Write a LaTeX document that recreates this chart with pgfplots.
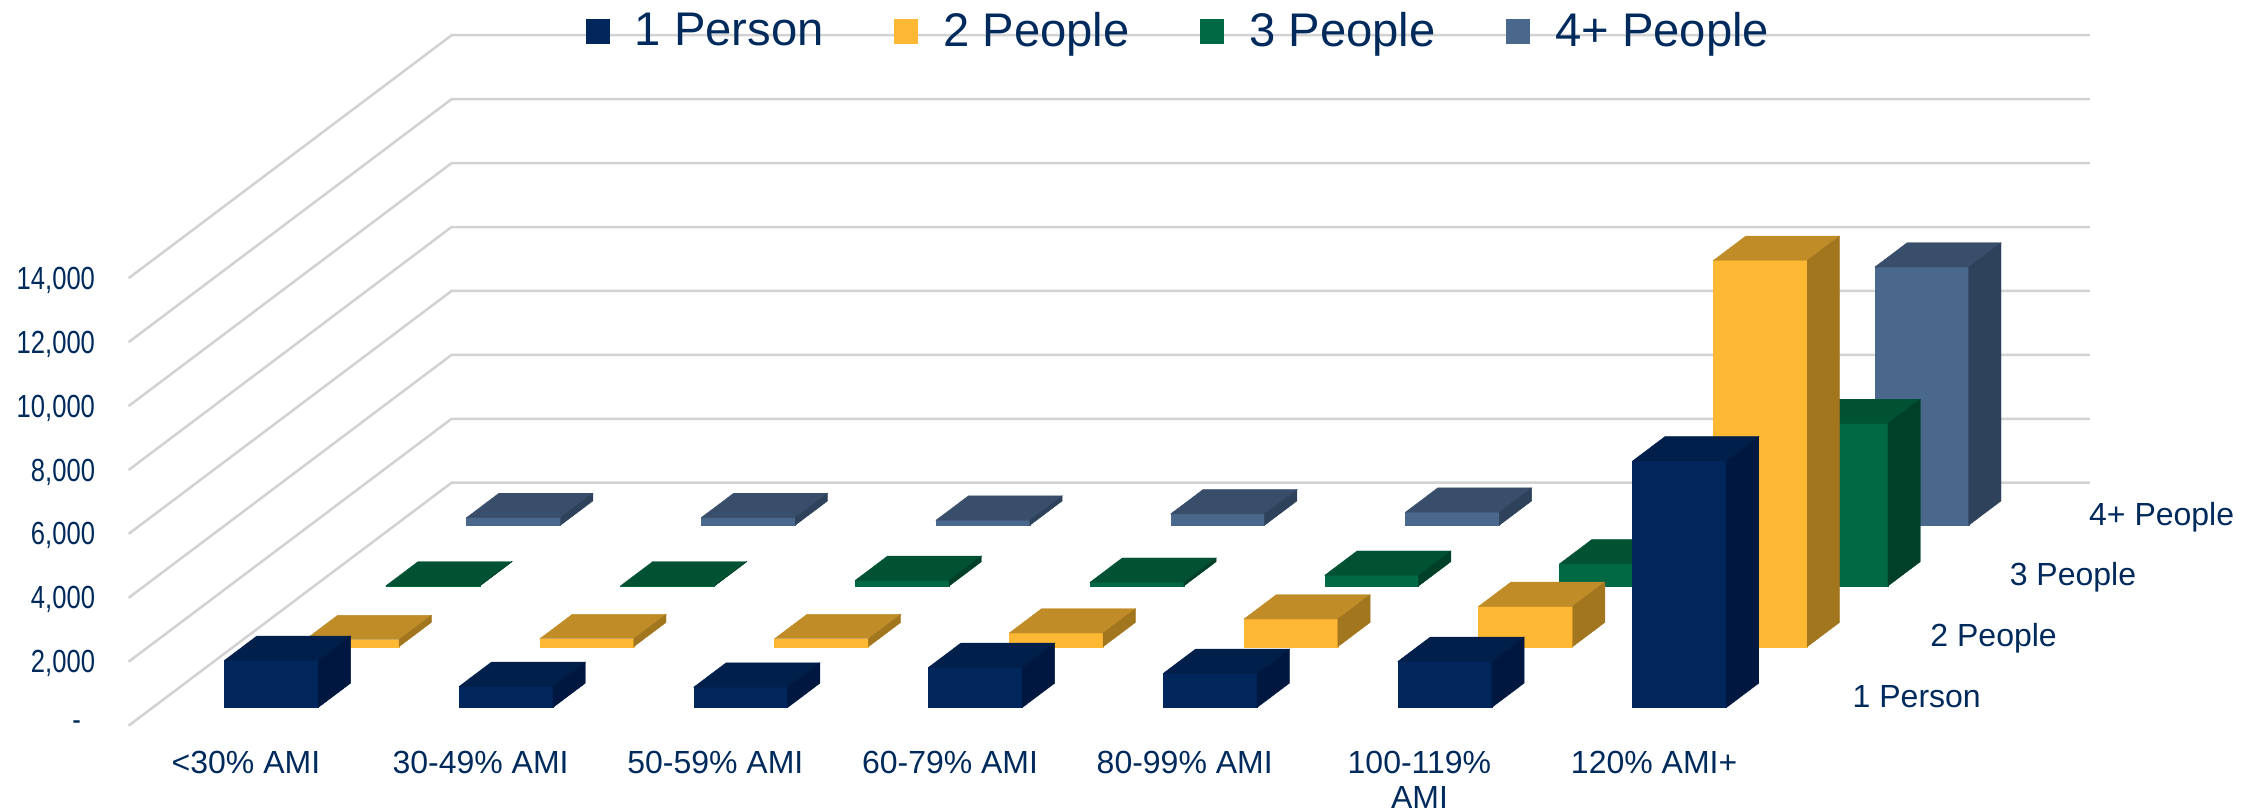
\documentclass[border=0pt]{standalone}
\usepackage{graphicx}
\usepackage{fontspec}
\setmainfont{Liberation Sans}
\usepackage{pgfplots}
\pgfplotsset{compat=1.18}

\definecolor{labelnavy}{HTML}{002A5C}
\definecolor{gridgray}{HTML}{D2D2D2}
\definecolor{navyF}{HTML}{00265C}\definecolor{navyT}{HTML}{011F4B}\definecolor{navyS}{HTML}{00183F}
\definecolor{goldF}{HTML}{FFB833}\definecolor{goldT}{HTML}{BF8C27}\definecolor{goldS}{HTML}{A2761E}
\definecolor{greenF}{HTML}{006843}\definecolor{greenT}{HTML}{005233}\definecolor{greenS}{HTML}{004029}
\definecolor{slateF}{HTML}{4A678C}\definecolor{slateT}{HTML}{394E6B}\definecolor{slateS}{HTML}{2E425C}

% One box: category index, series index, value, colour prefix
\newcommand{\drawbar}[4]{%
  \pgfmathsetmacro{\xa}{#1+0.305}\pgfmathsetmacro{\xb}{#1+0.705}%
  \pgfmathsetmacro{\ya}{#2+0.3}\pgfmathsetmacro{\yb}{#2+0.7}%
  \addplot3[fill=#4F,draw=#4F,line width=0.2pt,forget plot] coordinates
    {(\xa,\ya,0) (\xb,\ya,0) (\xb,\ya,#3) (\xa,\ya,#3)} --cycle;
  \addplot3[fill=#4T,draw=#4T,line width=0.2pt,forget plot] coordinates
    {(\xa,\ya,#3) (\xb,\ya,#3) (\xb,\yb,#3) (\xa,\yb,#3)} --cycle;
  \addplot3[fill=#4S,draw=#4S,line width=0.2pt,forget plot] coordinates
    {(\xb,\ya,0) (\xb,\yb,0) (\xb,\yb,#3) (\xb,\ya,#3)} --cycle;
}
% Wall grid line at one height: along the side wall, then along the back wall
\newcommand{\gridat}[1]{%
  \addplot3[draw=gridgray,line width=1.25pt,forget plot] coordinates
    {(0,0,#1) (0,4,#1) (6.98,4,#1)};
}
\newcommand{\swatch}[1]{%
  \addlegendimage{legend image code/.code={%
    \fill[#1,draw=none] (0pt,-6.2pt) rectangle (12pt,6.2pt);
    \path[draw=none] (0pt,0pt) -- (24.5pt,0pt);}}%
}
\newcommand{\catfont}{\fontsize{16}{17.5}\selectfont\color{labelnavy}}
\newcommand{\ztl}[2]{%
  \node[anchor=base east,inner sep=0pt,xshift=-16.6pt,yshift=-5.5pt]
    at (axis cs:0,0,#1) {\catfont\scalebox{0.8}[1]{#2}};
}
\newcommand{\xtl}[2]{%
  \node[anchor=base,inner sep=0pt,yshift=-23.8pt] at (axis cs:#1,0,0)
    {\catfont\begin{tabular}[t]{@{}c@{}}#2\end{tabular}};
}
\newcommand{\ytl}[3]{%
  \node[anchor=base west,inner sep=0pt,xshift=#3] at (axis cs:7,#1,0) {\catfont #2};
}

\begin{document}
\begin{tikzpicture}
\path[use as bounding box] (-64.3pt,-43.15pt) rectangle (1065.7pt,362.85pt);
\begin{axis}[
  at={(0pt,0pt)}, anchor=origin,
  x={(117.35pt,0pt)}, y={(40.375pt,30.375pt)}, z={(0pt,0.015975pt)},
  xmin=0, xmax=7, ymin=0, ymax=4, zmin=0, zmax=14000,
  hide axis, clip=false,
  legend columns=4,
  legend cell align=left,
  legend style={
    at={(0.5,1)}, anchor=north, xshift=33pt, yshift=11.5pt, draw=none, fill=none,
    font=\fontsize{23.6}{26}\selectfont, text=labelnavy,
    inner sep=0pt, nodes={inner sep=0pt},
    /tikz/every even column/.append style={column sep=35.3pt},
  },
]
\gridat{0}\gridat{2000}\gridat{4000}\gridat{6000}\gridat{8000}\gridat{10000}\gridat{12000}\gridat{14000}

% 4+ People
\drawbar{0}{3}{240}{slate}\drawbar{1}{3}{240}{slate}\drawbar{2}{3}{157}{slate}
\drawbar{3}{3}{355}{slate}\drawbar{4}{3}{407}{slate}\drawbar{5}{3}{700}{slate}\drawbar{6}{3}{8078}{slate}
% 3 People
\drawbar{0}{2}{5}{green}\drawbar{1}{2}{5}{green}\drawbar{2}{2}{177}{green}
\drawbar{3}{2}{115}{green}\drawbar{4}{2}{334}{green}\drawbar{5}{2}{689}{green}\drawbar{6}{2}{5083}{green}
% 2 People
\drawbar{0}{1}{219}{gold}\drawbar{1}{1}{250}{gold}\drawbar{2}{1}{250}{gold}
\drawbar{3}{1}{428}{gold}\drawbar{4}{1}{866}{gold}\drawbar{5}{1}{1263}{gold}\drawbar{6}{1}{12085}{gold}
% 1 Person
\drawbar{0}{0}{1472}{navy}\drawbar{1}{0}{658}{navy}\drawbar{2}{0}{637}{navy}
\drawbar{3}{0}{1253}{navy}\drawbar{4}{0}{1065}{navy}\drawbar{5}{0}{1441}{navy}\drawbar{6}{0}{7713}{navy}

\swatch{navyF}\addlegendentry{1 Person}
\swatch{goldF}\addlegendentry{2 People}
\swatch{greenF}\addlegendentry{3 People}
\swatch{slateF}\addlegendentry{4+ People}

\node[anchor=center,inner sep=0pt,xshift=-26pt] at (axis cs:0,0,0) {\catfont\scalebox{0.8}[1]{-}};
\ztl{2000}{2,000}\ztl{4000}{4,000}\ztl{6000}{6,000}
\ztl{8000}{8,000}\ztl{10000}{10,000}\ztl{12000}{12,000}\ztl{14000}{14,000}

\xtl{0.5}{<30\% AMI}\xtl{1.5}{30-49\% AMI}\xtl{2.5}{50-59\% AMI}\xtl{3.5}{60-79\% AMI}
\xtl{4.5}{80-99\% AMI}\xtl{5.5}{100-119\%\\AMI}\xtl{6.5}{120\% AMI+}

\ytl{0.3}{1 Person}{28.3pt}\ytl{1.3}{2 People}{26.8pt}\ytl{2.3}{3 People}{26.1pt}\ytl{3.3}{4+ People}{25.4pt}
\end{axis}
\end{tikzpicture}
\end{document}
